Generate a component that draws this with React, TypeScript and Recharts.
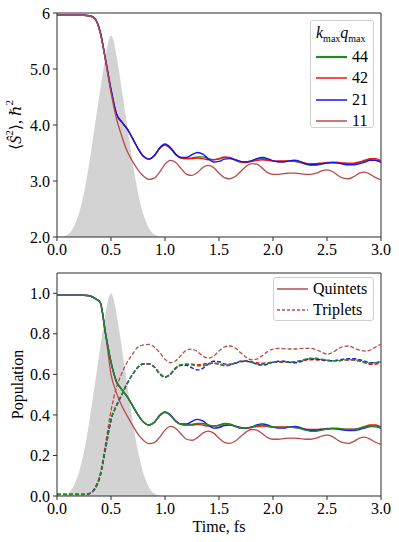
import React from "react";
import { ComposedChart, Line, Area, XAxis, YAxis, ReferenceLine } from "recharts";

// time grid, fs
const time = [
  0, 0.05, 0.1, 0.15, 0.2, 0.25, 0.3, 0.35, 0.4, 0.45, 0.5, 0.55, 0.6, 0.65, 0.7, 0.75, 0.8, 0.85, 0.9, 0.95,
  1.0, 1.05, 1.1, 1.15, 1.2, 1.25, 1.3, 1.35, 1.4, 1.45, 1.5, 1.55, 1.6, 1.65, 1.7, 1.75, 1.8, 1.85, 1.9, 1.95,
  2.0, 2.05, 2.1, 2.15, 2.2, 2.25, 2.3, 2.35, 2.4, 2.45, 2.5, 2.55, 2.6, 2.65, 2.7, 2.75, 2.8, 2.85, 2.9, 2.95, 3.0,
];

// <S^2> for each k_max q_max
const s2_44 = [
  5.96, 5.96, 5.96, 5.96, 5.96, 5.96, 5.95, 5.9, 5.66, 5.16, 4.63, 4.2, 4.05, 3.93, 3.76, 3.58, 3.44, 3.39, 3.45, 3.58,
  3.64, 3.58, 3.47, 3.41, 3.4, 3.41, 3.43, 3.43, 3.4, 3.38, 3.39, 3.42, 3.41, 3.37, 3.34, 3.34, 3.36, 3.39, 3.4, 3.38,
  3.36, 3.35, 3.35, 3.36, 3.35, 3.33, 3.3, 3.28, 3.28, 3.3, 3.32, 3.33, 3.33, 3.32, 3.31, 3.31, 3.33, 3.36, 3.38, 3.37, 3.35,
];
const s2_42 = [
  5.96, 5.96, 5.96, 5.96, 5.96, 5.96, 5.95, 5.9, 5.66, 5.16, 4.63, 4.2, 4.05, 3.93, 3.76, 3.58, 3.44, 3.39, 3.45, 3.58,
  3.64, 3.58, 3.47, 3.41, 3.4, 3.4, 3.41, 3.4, 3.38, 3.38, 3.4, 3.43, 3.42, 3.38, 3.34, 3.33, 3.35, 3.37, 3.38, 3.37,
  3.36, 3.36, 3.36, 3.36, 3.35, 3.34, 3.32, 3.31, 3.31, 3.32, 3.33, 3.33, 3.33, 3.32, 3.32, 3.32, 3.34, 3.37, 3.4, 3.4, 3.36,
];
const s2_21 = [
  5.96, 5.96, 5.96, 5.96, 5.96, 5.96, 5.95, 5.9, 5.66, 5.16, 4.63, 4.2, 4.05, 3.93, 3.76, 3.58, 3.44, 3.39, 3.45, 3.59,
  3.66, 3.6, 3.48, 3.42, 3.42, 3.47, 3.51, 3.48, 3.4, 3.34, 3.35, 3.39, 3.4, 3.38, 3.35, 3.34, 3.36, 3.4, 3.42, 3.4,
  3.36, 3.34, 3.34, 3.36, 3.37, 3.35, 3.31, 3.29, 3.3, 3.31, 3.32, 3.33, 3.32, 3.3, 3.29, 3.29, 3.31, 3.34, 3.37, 3.37, 3.33,
];
const s2_11 = [
  5.96, 5.96, 5.96, 5.96, 5.96, 5.96, 5.95, 5.9, 5.64, 5.14, 4.58, 4.12, 3.8, 3.53, 3.35, 3.2, 3.09, 3.03, 3.05, 3.16,
  3.3, 3.37, 3.33, 3.22, 3.12, 3.1, 3.15, 3.24, 3.28, 3.24, 3.14, 3.06, 3.04, 3.08, 3.17, 3.26, 3.31, 3.3, 3.23, 3.15,
  3.12, 3.12, 3.13, 3.14, 3.14, 3.13, 3.12, 3.12, 3.14, 3.18, 3.2, 3.17, 3.1, 3.05, 3.04, 3.08, 3.14, 3.16, 3.12, 3.06, 3.02,
];

// quintet populations
const q_44 = [
  0.99, 0.99, 0.99, 0.99, 0.99, 0.99, 0.988, 0.975, 0.955, 0.8, 0.66, 0.565, 0.525, 0.49, 0.445, 0.4, 0.365, 0.35, 0.363, 0.395,
  0.413, 0.398, 0.368, 0.353, 0.35, 0.353, 0.358, 0.358, 0.35, 0.345, 0.348, 0.355, 0.353, 0.343, 0.335, 0.335, 0.34, 0.348, 0.35, 0.345,
  0.34, 0.338, 0.338, 0.34, 0.338, 0.333, 0.325, 0.32, 0.32, 0.325, 0.33, 0.333, 0.333, 0.33, 0.328, 0.328, 0.333, 0.34, 0.345, 0.343, 0.338,
];
const q_42 = [
  0.99, 0.99, 0.99, 0.99, 0.99, 0.99, 0.988, 0.975, 0.955, 0.8, 0.66, 0.565, 0.525, 0.49, 0.445, 0.4, 0.365, 0.35, 0.363, 0.395,
  0.413, 0.398, 0.368, 0.353, 0.35, 0.35, 0.353, 0.35, 0.345, 0.345, 0.35, 0.358, 0.355, 0.345, 0.335, 0.333, 0.338, 0.343, 0.345, 0.343,
  0.34, 0.34, 0.34, 0.34, 0.338, 0.335, 0.33, 0.328, 0.328, 0.33, 0.333, 0.333, 0.333, 0.33, 0.33, 0.33, 0.335, 0.343, 0.35, 0.35, 0.34,
];
const q_21 = [
  0.99, 0.99, 0.99, 0.99, 0.99, 0.99, 0.988, 0.975, 0.955, 0.8, 0.66, 0.565, 0.525, 0.49, 0.445, 0.4, 0.365, 0.35, 0.363, 0.398,
  0.415, 0.4, 0.37, 0.355, 0.355, 0.368, 0.378, 0.37, 0.35, 0.335, 0.338, 0.348, 0.35, 0.345, 0.338, 0.335, 0.34, 0.35, 0.355, 0.35,
  0.34, 0.335, 0.335, 0.34, 0.343, 0.338, 0.328, 0.323, 0.325, 0.328, 0.33, 0.333, 0.33, 0.325, 0.323, 0.323, 0.328, 0.335, 0.343, 0.343, 0.333,
];
const q_11 = [
  0.99, 0.99, 0.99, 0.99, 0.99, 0.99, 0.988, 0.975, 0.955, 0.8, 0.6, 0.51, 0.445, 0.395, 0.348, 0.305, 0.275, 0.258, 0.263, 0.29,
  0.325, 0.343, 0.333, 0.305, 0.28, 0.275, 0.288, 0.31, 0.32, 0.31, 0.285, 0.265, 0.26, 0.27, 0.293, 0.315, 0.328, 0.325, 0.308, 0.288,
  0.28, 0.28, 0.283, 0.285, 0.285, 0.283, 0.28, 0.28, 0.285, 0.295, 0.3, 0.293, 0.275, 0.263, 0.26, 0.27, 0.285, 0.29, 0.28, 0.265, 0.255,
];

// triplet populations
const t_44 = [
  0.008, 0.008, 0.008, 0.008, 0.008, 0.008, 0.012, 0.035, 0.1, 0.235, 0.375, 0.445, 0.5, 0.555, 0.6, 0.635, 0.652, 0.652, 0.637, 0.605,
  0.587, 0.602, 0.632, 0.647, 0.65, 0.647, 0.642, 0.642, 0.65, 0.655, 0.652, 0.645, 0.647, 0.657, 0.665, 0.665, 0.66, 0.652, 0.65, 0.655,
  0.66, 0.662, 0.662, 0.66, 0.662, 0.667, 0.675, 0.68, 0.68, 0.675, 0.67, 0.667, 0.667, 0.67, 0.672, 0.672, 0.667, 0.66, 0.655, 0.657, 0.662,
];
const t_42 = [
  0.008, 0.008, 0.008, 0.008, 0.008, 0.008, 0.012, 0.035, 0.1, 0.235, 0.375, 0.445, 0.5, 0.555, 0.6, 0.635, 0.652, 0.652, 0.637, 0.605,
  0.587, 0.602, 0.632, 0.647, 0.65, 0.65, 0.647, 0.65, 0.655, 0.655, 0.65, 0.642, 0.645, 0.655, 0.665, 0.667, 0.662, 0.657, 0.655, 0.657,
  0.66, 0.66, 0.66, 0.66, 0.662, 0.665, 0.67, 0.672, 0.672, 0.67, 0.667, 0.667, 0.667, 0.67, 0.67, 0.67, 0.665, 0.657, 0.65, 0.65, 0.66,
];
const t_21 = [
  0.008, 0.008, 0.008, 0.008, 0.008, 0.008, 0.012, 0.035, 0.1, 0.235, 0.375, 0.445, 0.5, 0.555, 0.6, 0.635, 0.652, 0.652, 0.637, 0.602,
  0.585, 0.6, 0.63, 0.645, 0.645, 0.632, 0.622, 0.63, 0.65, 0.665, 0.662, 0.652, 0.65, 0.655, 0.662, 0.665, 0.66, 0.65, 0.645, 0.65,
  0.66, 0.665, 0.665, 0.66, 0.657, 0.662, 0.672, 0.677, 0.675, 0.672, 0.67, 0.667, 0.67, 0.675, 0.677, 0.677, 0.672, 0.665, 0.657, 0.657, 0.667,
];
const t_11 = [
  0.008, 0.008, 0.008, 0.008, 0.008, 0.008, 0.012, 0.04, 0.11, 0.26, 0.42, 0.535, 0.605, 0.66, 0.7, 0.735, 0.745, 0.748, 0.735, 0.708,
  0.675, 0.657, 0.667, 0.695, 0.72, 0.725, 0.712, 0.69, 0.68, 0.69, 0.715, 0.735, 0.74, 0.73, 0.707, 0.685, 0.672, 0.675, 0.692, 0.712,
  0.725, 0.728, 0.727, 0.725, 0.725, 0.727, 0.728, 0.728, 0.722, 0.71, 0.7, 0.707, 0.725, 0.737, 0.74, 0.73, 0.72, 0.715, 0.72, 0.735, 0.75,
];

// pump pulse envelope (normalised)
const pulseTime = [
  0, 0.025, 0.05, 0.075, 0.1, 0.125, 0.15, 0.175, 0.2, 0.225, 0.25, 0.275, 0.3, 0.325, 0.35, 0.375, 0.4, 0.425, 0.45, 0.475,
  0.5, 0.525, 0.55, 0.575, 0.6, 0.625, 0.65, 0.675, 0.7, 0.725, 0.75, 0.775, 0.8, 0.825, 0.85, 0.875, 0.9, 0.925, 0.95, 0.975, 1.0,
];
const pulse = [
  0, 0.001, 0.002, 0.006, 0.012, 0.025, 0.045, 0.075, 0.11, 0.16, 0.22, 0.29, 0.37, 0.46, 0.55, 0.64, 0.73, 0.82, 0.9, 0.97,
  1.0, 0.97, 0.9, 0.82, 0.73, 0.64, 0.55, 0.46, 0.37, 0.29, 0.22, 0.16, 0.11, 0.075, 0.045, 0.025, 0.012, 0.006, 0.002, 0.001, 0,
];

const xTicks = [0, 0.5, 1, 1.5, 2, 2.5, 3];
const topYTicks = [2, 3, 4, 5, 6];
const botYTicks = [0, 0.2, 0.4, 0.6, 0.8, 1.0];

const GREEN = "#218a21";
const RED = "#f21414";
const BLUE = "#1414f5";
const BROWN = "#b84c4c";
const GRAY = "#d3d3d3";
const FRAME = "#2b2b2b";
const FONT = "'Liberation Serif', 'DejaVu Serif', serif";
const FS = 16;

// merge line grid and pulse grid into one table
function buildRows(lines: Record<string, number[]>, pulseScale: (p: number) => number) {
  const map = new Map<string, any>();
  time.forEach((t, i) => {
    const row: any = { t };
    for (const k in lines) row[k] = lines[k][i];
    map.set(t.toFixed(3), row);
  });
  pulseTime.forEach((t, i) => {
    const key = t.toFixed(3);
    const row = map.get(key) || { t };
    row.pulse = pulseScale(pulse[i]);
    map.set(key, row);
  });
  return Array.from(map.values()).sort((a, b) => a.t - b.t);
}

const topRows = buildRows({ k44: s2_44, k42: s2_42, k21: s2_21, k11: s2_11 }, (p) => 2 + 3.6 * p);
const botRows = buildRows(
  { q44: q_44, q42: q_42, q21: q_21, q11: q_11, t44: t_44, t42: t_42, t21: t_21, t11: t_11 },
  (p) => p
);

const tickStyle = { fill: "#000", fontSize: FS, fontFamily: FONT };

function TopYLabel(props: any) {
  const vb = props.viewBox;
  const cx = 15;
  const cy = vb.y + vb.height / 2;
  return (
    <text
      x={cx}
      y={cy}
      transform={`rotate(-90 ${cx} ${cy})`}
      textAnchor="middle"
      dominantBaseline="central"
      fontFamily={FONT}
      fontSize={FS}
      fill="#000"
    >
      ⟨<tspan fontStyle="italic">Ŝ</tspan>
      <tspan dy={-6} fontSize={11}>2</tspan>
      <tspan dy={6}>⟩, </tspan>
      <tspan fontStyle="italic">ℏ</tspan>
      <tspan dy={-6} fontSize={11}>2</tspan>
    </text>
  );
}

function BotYLabel(props: any) {
  const vb = props.viewBox;
  const cx = 17;
  const cy = vb.y + vb.height / 2;
  return (
    <text
      x={cx}
      y={cy}
      transform={`rotate(-90 ${cx} ${cy})`}
      textAnchor="middle"
      dominantBaseline="central"
      fontFamily={FONT}
      fontSize={FS}
      fill="#000"
    >
      Population
    </text>
  );
}

function XLabel(props: any) {
  const vb = props.viewBox;
  return (
    <text x={vb.x + vb.width / 2} y={vb.y + 36} textAnchor="middle" fontFamily={FONT} fontSize={FS} fill="#000">
      Time, fs
    </text>
  );
}

const legendBox: React.CSSProperties = {
  position: "absolute",
  background: "rgba(255,255,255,0.8)",
  border: "1px solid #d0d0d0",
  borderRadius: 3,
  fontFamily: FONT,
  fontSize: FS,
  color: "#000",
  boxSizing: "border-box",
};

function LegendRow({ color, label, width, dash, lw }: { color: string; label: string; width: number; dash?: string; lw?: number }) {
  return (
    <div style={{ display: "flex", alignItems: "center", height: 21.5 }}>
      <svg width={width} height={10} style={{ marginRight: 5 }}>
        <line x1={0} y1={5} x2={width} y2={5} stroke={color} strokeWidth={lw ?? 1.5} strokeDasharray={dash} />
      </svg>
      <span>{label}</span>
    </div>
  );
}

export default function App() {
  return (
    <div style={{ position: "relative", width: 399, height: 542, background: "#fff" }}>
      <style>{"body{margin:0}"}</style>
      <ComposedChart width={399} height={262} data={topRows} margin={{ top: 13, right: 18, bottom: 0, left: 0 }}>
        <XAxis
          dataKey="t"
          type="number"
          domain={[0, 3]}
          ticks={xTicks}
          tickFormatter={(v: number) => v.toFixed(1)}
          tick={tickStyle}
          tickSize={4}
          tickMargin={3}
          height={25}
          stroke={FRAME}
          allowDataOverflow
        />
        <YAxis
          type="number"
          domain={[2, 6]}
          ticks={topYTicks}
          tickFormatter={(v: number) => (v === 6 ? "6" : v.toFixed(1))}
          tick={tickStyle}
          tickSize={4}
          tickMargin={3}
          width={57}
          stroke={FRAME}
          allowDataOverflow
          label={{ content: TopYLabel }}
        />
        <ReferenceLine x={3} stroke={FRAME} />
        <ReferenceLine y={6} stroke={FRAME} />
        <Area dataKey="pulse" type="monotone" fill={GRAY} fillOpacity={1} stroke="none" isAnimationActive={false} />
        <Line dataKey="k44" type="monotone" stroke={GREEN} strokeWidth={1.4} dot={false} connectNulls isAnimationActive={false} />
        <Line dataKey="k42" type="monotone" stroke={RED} strokeWidth={1.4} dot={false} connectNulls isAnimationActive={false} />
        <Line dataKey="k21" type="monotone" stroke={BLUE} strokeWidth={1.4} dot={false} connectNulls isAnimationActive={false} />
        <Line dataKey="k11" type="monotone" stroke={BROWN} strokeWidth={1.3} dot={false} connectNulls isAnimationActive={false} />
      </ComposedChart>

      <ComposedChart width={399} height={280} data={botRows} margin={{ top: 11, right: 18, bottom: 0, left: 0 }}>
        <XAxis
          dataKey="t"
          type="number"
          domain={[0, 3]}
          ticks={xTicks}
          tickFormatter={(v: number) => v.toFixed(1)}
          tick={tickStyle}
          tickSize={4}
          tickMargin={3}
          height={46}
          stroke={FRAME}
          allowDataOverflow
          label={{ content: XLabel }}
        />
        <YAxis
          type="number"
          domain={[0, 1.1]}
          ticks={botYTicks}
          tickFormatter={(v: number) => v.toFixed(1)}
          tick={tickStyle}
          tickSize={4}
          tickMargin={3}
          width={57}
          stroke={FRAME}
          allowDataOverflow
          label={{ content: BotYLabel }}
        />
        <ReferenceLine x={3} stroke={FRAME} />
        <ReferenceLine y={1.1} stroke={FRAME} />
        <Area dataKey="pulse" type="monotone" fill={GRAY} fillOpacity={1} stroke="none" isAnimationActive={false} />
        <Line dataKey="q11" type="monotone" stroke={BROWN} strokeWidth={1.3} dot={false} connectNulls isAnimationActive={false} />
        <Line dataKey="t11" type="monotone" stroke={BROWN} strokeWidth={1.3} strokeDasharray="4 2" dot={false} connectNulls isAnimationActive={false} />
        <Line dataKey="q42" type="monotone" stroke={RED} strokeWidth={1.4} dot={false} connectNulls isAnimationActive={false} />
        <Line dataKey="t42" type="monotone" stroke={RED} strokeWidth={1.4} strokeDasharray="4 2" dot={false} connectNulls isAnimationActive={false} />
        <Line dataKey="q21" type="monotone" stroke={BLUE} strokeWidth={1.4} dot={false} connectNulls isAnimationActive={false} />
        <Line dataKey="t21" type="monotone" stroke={BLUE} strokeWidth={1.4} strokeDasharray="4 2" dot={false} connectNulls isAnimationActive={false} />
        <Line dataKey="q44" type="monotone" stroke={GREEN} strokeWidth={1.5} dot={false} connectNulls isAnimationActive={false} />
        <Line dataKey="t44" type="monotone" stroke={GREEN} strokeWidth={1.5} strokeDasharray="4 2" dot={false} connectNulls isAnimationActive={false} />
      </ComposedChart>

      <div style={{ ...legendBox, left: 310, top: 20, width: 64, height: 108, padding: "3px 0 0 5px" }}>
        <div style={{ height: 22, whiteSpace: "nowrap" }}>
          <i>k</i>
          <sub style={{ fontSize: 10 }}>max</sub>
          <i>q</i>
          <sub style={{ fontSize: 10 }}>max</sub>
        </div>
        <LegendRow color={GREEN} label="44" width={31} lw={2.2} />
        <LegendRow color={RED} label="42" width={31} />
        <LegendRow color={BLUE} label="21" width={31} />
        <LegendRow color={BROWN} label="11" width={31} />
      </div>

      <div style={{ ...legendBox, left: 273, top: 277, width: 101, height: 44, padding: "0 0 0 3px" }}>
        <LegendRow color={BROWN} label="Quintets" width={31} />
        <LegendRow color={BROWN} label="Triplets" width={31} dash="3 2" />
      </div>
    </div>
  );
}
